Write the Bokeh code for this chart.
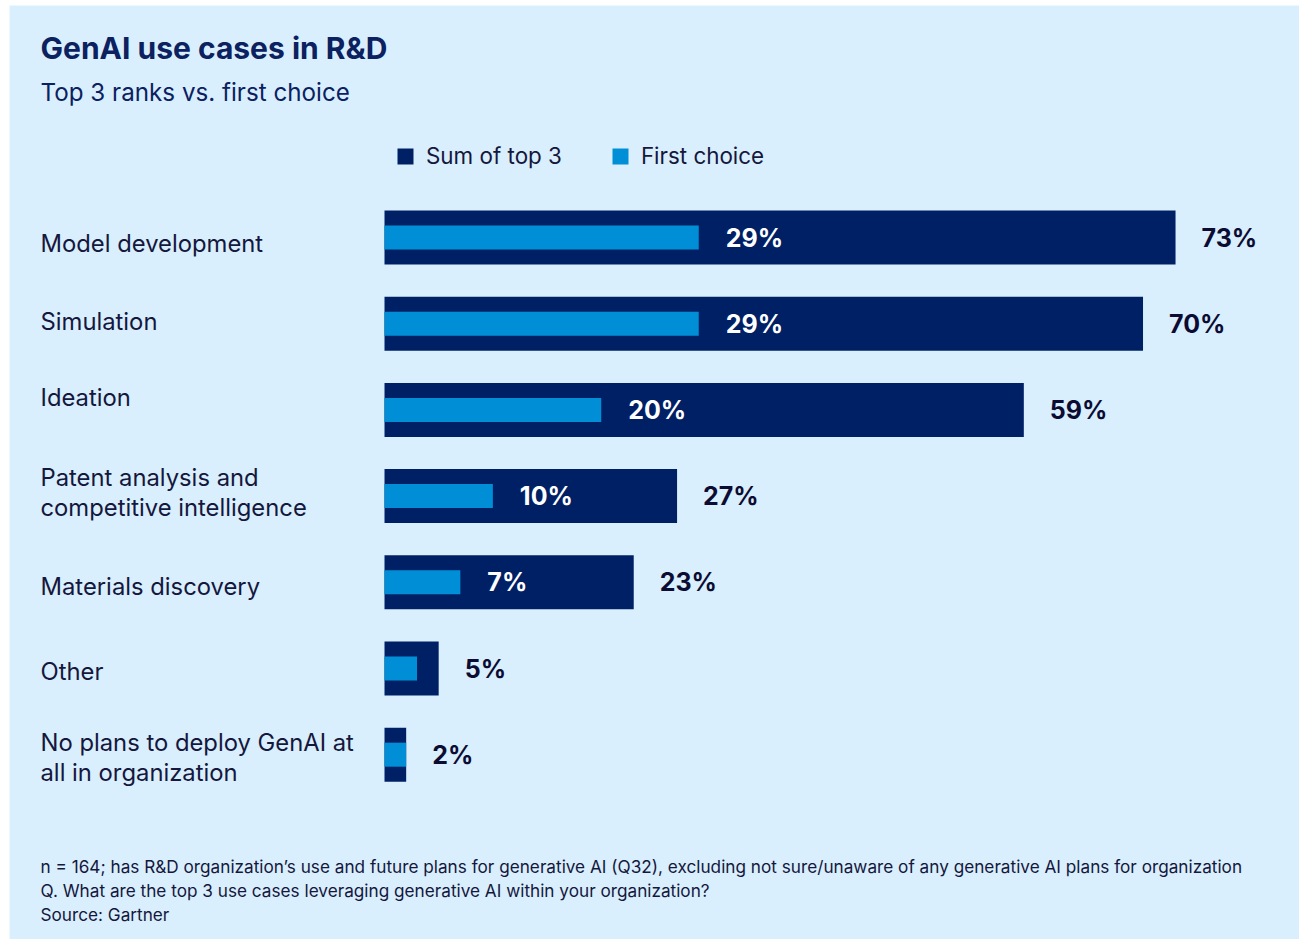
from bokeh.plotting import figure
from bokeh.models import Range1d, Label, Legend, LegendItem, ColumnDataSource
from bokeh.core.properties import value
from bokeh.embed import file_html
from bokeh.resources import INLINE

# ---------------- data ----------------
categories = [
    "Model development",
    "Simulation",
    "Ideation",
    "Patent analysis and\ncompetitive intelligence",
    "Materials discovery",
    "Other",
    "No plans to deploy GenAI at\nall in organization",
]
sum_top3 = [73, 70, 59, 27, 23, 5, 2]
first_choice = [29, 29, 20, 10, 7, 3, 2]
first_choice_labelled = [True, True, True, True, True, False, False]
series_names = ["Sum of top 3", "First choice"]
title_text = "GenAI use cases in R&D"
subtitle_text = "Top 3 ranks vs. first choice"
footnotes = [
    "n = 164; has R&D organization\u2019s use and future plans for generative AI (Q32), excluding not sure/unaware of any generative AI plans for organization",
    "Q. What are the top 3 use cases leveraging generative AI within your organization?",
    "Source: Gartner",
]

# ---------------- style / layout ----------------
W, H = 1299, 939
LEFT_PAD, TOP_PAD = 9, 5
BG = "#d9effe"
DARK = "#002065"
LIGHT = "#008fd6"
NAVY = "#0b2160"
INK = "#15173d"
VAL_INK = "#0c0c33"
FONT = "Inter"

PX_PER_PCT = 10.836
X0_PX = 384.0          # picture-x of 0 %
ROW_PX = 86.2          # px per row
ROW0_PX = 237.0        # picture-y of first row centre


def X(px):  # picture px -> data x
    return (px - X0_PX) / PX_PER_PCT


def Y(px):  # picture px -> data y
    return (px - ROW0_PX) / ROW_PX


rows = list(range(len(categories)))

p = figure(
    width=W, height=H,
    x_range=Range1d(X(LEFT_PAD), X(W)),
    y_range=Range1d(Y(H), Y(TOP_PAD)),
    output_backend="svg", toolbar_location=None,
    min_border=0, min_border_left=LEFT_PAD, min_border_right=0,
    min_border_top=TOP_PAD, min_border_bottom=0,
)
p.xaxis.visible = False
p.yaxis.visible = False
p.grid.visible = False
p.outline_line_color = None
p.background_fill_color = BG
p.border_fill_color = "white"

src = ColumnDataSource(dict(
    y=rows, cat=categories, total=sum_top3, first=first_choice,
))

r_dark = p.hbar(y="y", left=0, right="total", height=54 / ROW_PX,
                fill_color=DARK, line_color=None, source=src)
r_light = p.hbar(y="y", left=0, right="first", height=24 / ROW_PX,
                 fill_color=LIGHT, line_color=None, source=src)

# value labels
p.text(x=[v + 26 / PX_PER_PCT for v in sum_top3], y=rows,
       text=[f"{v}%" for v in sum_top3],
       text_font=value(FONT), text_font_style="bold", text_font_size="25px",
       text_color=VAL_INK, text_baseline="middle", text_align="left")
fr = [r for r, f in zip(rows, first_choice_labelled) if f]
fv = [v for v, f in zip(first_choice, first_choice_labelled) if f]
p.text(x=[v + 27 / PX_PER_PCT for v in fv], y=fr,
       text=[f"{v}%" for v in fv],
       text_font=value(FONT), text_font_style="bold", text_font_size="25px",
       text_color="white", text_baseline="middle", text_align="left")

# category labels (left aligned, slight per-row offsets as in the original)
label_dy_px = [6.2, -2.2, -12.8, -3.7, 4.5, 2.5, 2.9]
cat_y = [r + d / ROW_PX for r, d in zip(rows, label_dy_px)]
p.text(x=[X(40)] * len(categories), y=cat_y, text=categories,
       text_font=value(FONT), text_font_size="23.8px", text_color=INK,
       text_baseline="middle", text_align="left", text_line_height=1.02)

# title, subtitle
p.add_layout(Label(x=X(40), y=Y(47), text=title_text, text_font=FONT,
                   text_font_style="bold", text_font_size="30px",
                   text_color=NAVY, text_baseline="middle"))
p.add_layout(Label(x=X(40), y=Y(92), text=subtitle_text, text_font=FONT,
                   text_font_size="24.2px", text_color=NAVY,
                   text_baseline="middle"))

# footnotes
for i, t in enumerate(footnotes):
    p.add_layout(Label(x=X(40), y=Y(866 + 24 * i), text=t, text_font=FONT,
                       text_font_size="17.2px", text_color=INK,
                       text_baseline="middle"))

# legend
legend = Legend(
    items=[LegendItem(label=series_names[0], renderers=[r_dark]),
           LegendItem(label=series_names[1], renderers=[r_light])],
    orientation="horizontal",
    location=(395 - LEFT_PAD, H - 169),
    glyph_width=20, glyph_height=20,
    label_standoff=11, spacing=48, padding=0, margin=0,
    label_text_font=FONT, label_text_font_size="22.4px",
    label_text_color=INK, label_height=20,
    background_fill_alpha=0, border_line_color=None,
)
p.add_layout(legend, "center")

open("out.html", "w").write(file_html(p, INLINE))
